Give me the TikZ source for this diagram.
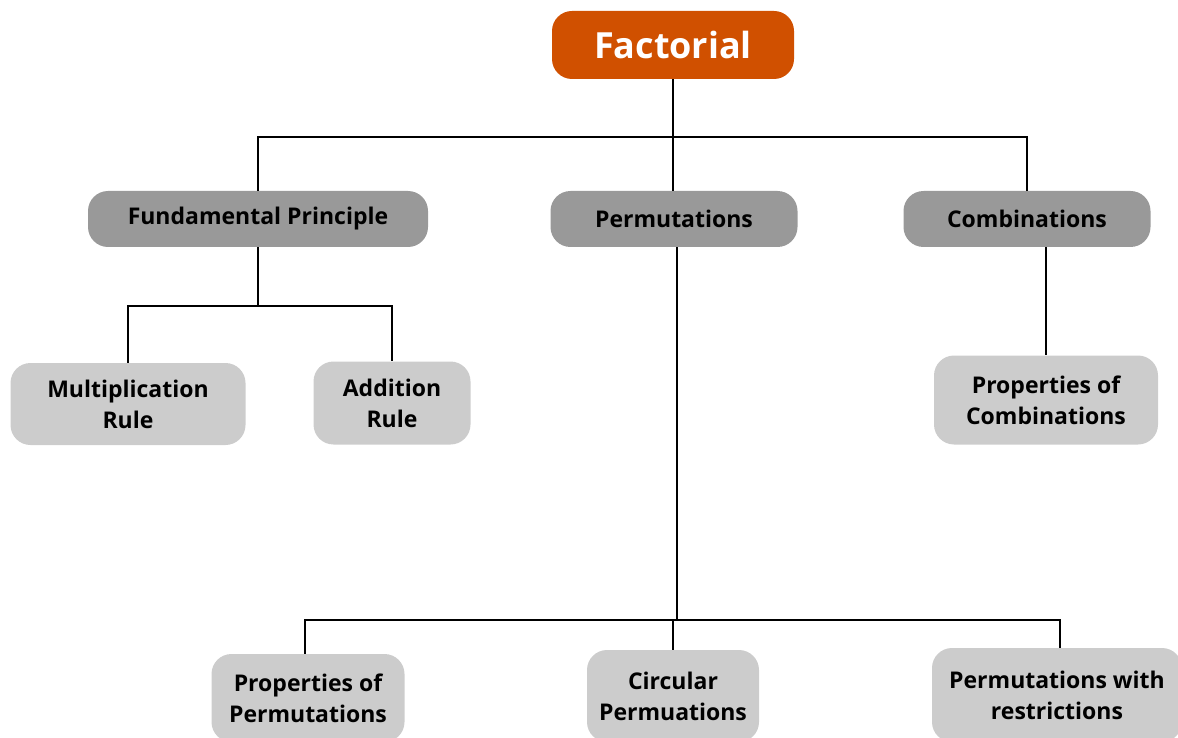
\documentclass[tikz,border=0pt]{standalone}
\usepackage{fontspec}
\setmainfont{Open Sans}
\usetikzlibrary{calc}
\definecolor{rootc}{HTML}{D05000}
\definecolor{midc}{HTML}{999999}
\definecolor{leafc}{HTML}{CCCCCC}
\begin{document}
\begin{tikzpicture}[x=1pt,y=-1pt,
  box/.style={rounded corners=20pt, inner sep=0pt, align=center, font=\bfseries\fontsize{23}{31}\selectfont},
  rootbox/.style={box, fill=rootc, text=white, minimum width=242pt, minimum height=68pt, font=\bfseries\fontsize{36}{40}\selectfont},
  midbox/.style={box, fill=midc, minimum height=56pt},
  leafbox/.style={box, fill=leafc},
  conn/.style={line width=2pt}]
\useasboundingbox (0,0) rectangle (1178,738);
\clip (0,0) rectangle (1178,738);
\node[rootbox] (fact) at (673,45) {Factorial};
\node[midbox, minimum width=340pt] (fund) at (258,219) {Fundamental Principle};
\node[midbox, minimum width=247pt] (perm) at (674,219) {Permutations};
\node[midbox, minimum width=247pt] (comb) at (1027,219) {Combinations};
\node[leafbox, minimum width=235pt, minimum height=82pt] (mult) at (128,404) {Multiplication\\Rule};
\node[leafbox, minimum width=157pt, minimum height=83pt] (add) at (392,403) {Addition\\Rule};
\node[leafbox, minimum width=224pt, minimum height=89pt] (pcomb) at (1046,400) {Properties of\\Combinations};
\node[leafbox, minimum width=193pt, minimum height=88pt] (pperm) at (308,698) {Properties of\\Permutations};
\node[leafbox, minimum width=172pt, minimum height=92pt] (circ) at (673,696) {Circular\\Permuations};
\node[leafbox, minimum width=250pt, minimum height=94pt] (restr) at (1057,695) {Permutations with\\restrictions};
\coordinate (j1) at (673,137);
\coordinate (j2) at (258,306);
\coordinate (j3) at (677,620);
\draw[conn] (fact.south) -- (j1);
\draw[conn] (fund.north) |- (j1) -| (comb.north);
\draw[conn] (j1) -- (perm.north -| j1);
\draw[conn] (fund.south) -- (j2);
\draw[conn] (mult.north) |- (j2) -| (add.north);
\draw[conn] (comb.south -| pcomb.north) -- (pcomb.north);
\draw[conn] (perm.south -| j3) -- (j3);
\draw[conn] ([xshift=-3pt]pperm.north) |- (j3) -| ([xshift=3pt]restr.north);
\draw[conn] (circ.north) -- (circ.north |- j3);
\end{tikzpicture}
\end{document}
